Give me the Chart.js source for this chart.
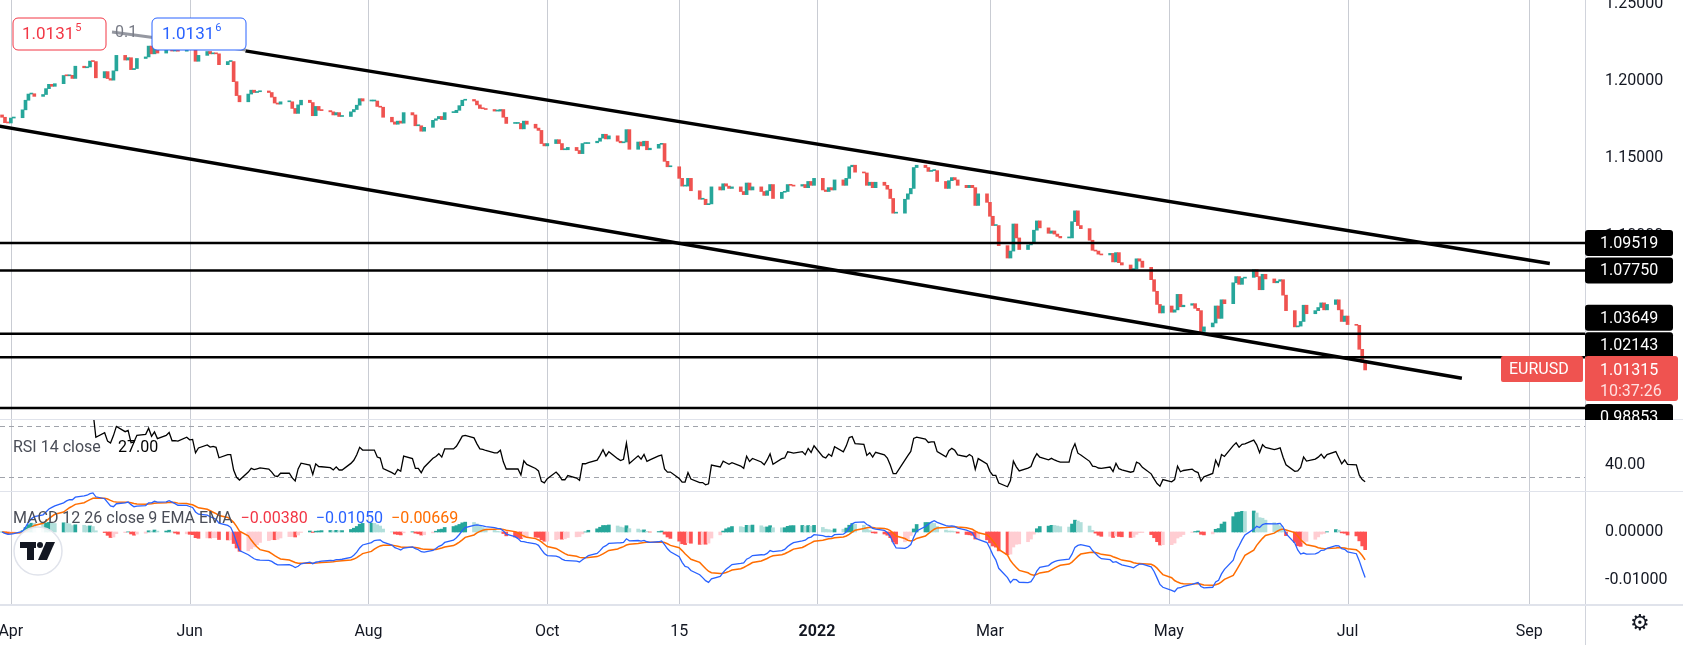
<!DOCTYPE html>
<html><head><meta charset="utf-8">
<script src="https://cdn.jsdelivr.net/npm/chart.js@4.4.0/dist/chart.umd.min.js"></script>
<style>
html,body{margin:0;padding:0;background:#fff;overflow:hidden}
#wrap{position:relative;width:1683px;height:645px}
canvas{position:absolute;left:0}
</style></head><body>
<div id="wrap">
<canvas id="c1" style="top:0"></canvas>
<canvas id="c2" style="top:420px"></canvas>
<canvas id="c3" style="top:492px"></canvas>
</div>
<script>
// ---- DATA ----
const startDate = '2021-03-29';          // first trading day (Mon)
const firstOpen = 1.1780;
const closes = [
1.1765,1.1730,1.1728,1.1760,1.1762, 1.1813,1.1875,1.1915,1.1917,1.1900, 1.1912,1.1950,1.1978,1.1965,1.1982,
1.2035,1.2033,1.2036,1.2016,1.2095, 1.2085,1.2090,1.2128,1.2125,1.2020, 1.2060,1.2015,1.2005,1.2065,1.2165,
1.2135,1.2150,1.2073,1.2080,1.2145, 1.2155,1.2225,1.2175,1.2225,1.2180, 1.2215,1.2250,1.2193,1.2195,1.2192,
1.2228,1.2212,1.2215,1.2127,1.2165, 1.2190,1.2175,1.2180,1.2175,1.2105, 1.2125,1.2125,1.1995,1.1905,1.1865,
1.1915,1.1940,1.1925,1.1930,1.1935, 1.1925,1.1895,1.1857,1.1850,1.1865, 1.1865,1.1822,1.1790,1.1845,1.1875,
1.1860,1.1775,1.1835,1.1810,1.1808, 1.1800,1.1780,1.1795,1.1770,1.1770, 1.1800,1.1815,1.1843,1.1885,1.1870,
1.1870,1.1870,1.1835,1.1830,1.1765, 1.1735,1.1720,1.1740,1.1727,1.1795, 1.1780,1.1710,1.1710,1.1675,1.1700,
1.1745,1.1755,1.1770,1.1750,1.1795, 1.1795,1.1810,1.1840,1.1875,1.1880, 1.1870,1.1845,1.1822,1.1820,1.1815,
1.1805,1.1805,1.1815,1.1765,1.1725, 1.1725,1.1725,1.1690,1.1740,1.1720, 1.1695,1.1680,1.1595,1.1580,1.1595,
1.1620,1.1595,1.1555,1.1555,1.1570, 1.1550,1.1530,1.1595,1.1595,1.1600, 1.1610,1.1630,1.1655,1.1625,1.1645,
1.1610,1.1600,1.1605,1.1685,1.1558, 1.1605,1.1580,1.1610,1.1555,1.1565, 1.1590,1.1595,1.1480,1.1445,1.1445,
1.1370,1.1320,1.1320,1.1370,1.1290, 1.1235,1.1235,1.1200,1.1205,1.1315, 1.1295,1.1335,1.1320,1.1305,1.1315,
1.1285,1.1265,1.1340,1.1295,1.1315, 1.1285,1.1260,1.1290,1.1330,1.1240, 1.1280,1.1285,1.1330,1.1325,1.1320,
1.1330,1.1310,1.1350,1.1325,1.1370, 1.1295,1.1285,1.1310,1.1295,1.1360, 1.1325,1.1370,1.1445,1.1455,1.1410,
1.1405,1.1325,1.1345,1.1310,1.1345, 1.1325,1.1300,1.1240,1.1145,1.1145, 1.1235,1.1270,1.1305,1.1440,1.1455,
1.1440,1.1415,1.1420,1.1420,1.1350, 1.1305,1.1355,1.1375,1.1360,1.1325, 1.1310,1.1325,1.1310,1.1195,1.1270,
1.1215,1.1125,1.1065,1.1065,1.0935, 1.0855,1.0900,1.1075,1.0985,1.0910, 1.0940,1.0955,1.1035,1.1095,1.1050,
1.1015,1.1030,1.1010,1.0995,1.0985, 1.0985,1.1090,1.1160,1.1065,1.1045, 1.0970,1.0905,1.0900,1.0880,1.0875,
1.0885,1.0830,1.0890,1.0825,1.0810, 1.0780,1.0785,1.0850,1.0835,1.0795, 1.0715,1.0640,1.0555,1.0500,1.0545,
1.0505,1.0520,1.0620,1.0540,1.0550, 1.0560,1.0530,1.0515,1.0380,1.0410, 1.0435,1.0545,1.0465,1.0585,1.0560,
1.0695,1.0735,1.0685,1.0725,1.0730, 1.0780,1.0735,1.0650,1.0750,1.0720, 1.0695,1.0705,1.0715,1.0615,1.0515,
1.0410,1.0415,1.0445,1.0550,1.0495, 1.0515,1.0535,1.0565,1.0520,1.0555, 1.0585,1.0520,1.0445,1.0480,1.0425,
1.0420,1.0265,1.0180,1.01315
];
const levels = [1.09519, 1.07750, 1.03649, 1.02143, 0.98853];
const levelLabelShift = [0, 0, -16, -12, 9];
const upperTrend = [{d:'2021-06-20',p:1.2194},{d:'2022-09-08',p:1.0820}];
const lowerTrend = [{d:'2021-03-28',p:1.1708},{d:'2022-08-09',p:1.0078}];
const dateTicks = ['2021-04-01','2021-06-01','2021-08-01','2021-10-01','2021-11-15','2022-01-01','2022-03-01','2022-05-01','2022-07-01','2022-09-01'];
const dateTickLabels = ['Apr','Jun','Aug','Oct','15','2022','Mar','May','Jul','Sep'];
const priceTicks = [1.00,1.05,1.10,1.15,1.20,1.25];
const lastPrice = 1.01315, countdown = '10:37:26';

// ---- helpers ----
const T0 = Date.UTC(2021,3,1);
const dayOf = s => (Date.parse(s+'T00:00:00Z')-T0)/86400000;
const days=[]; {let t=Date.parse(startDate+'T00:00:00Z'); while(days.length<closes.length){const wd=new Date(t).getUTCDay(); if(wd!==0&&wd!==6) days.push((t-T0)/86400000); t+=86400000;}}
const opens = closes.map((c,i)=> i===0?firstOpen:closes[i-1]);
const up = closes.map((c,i)=>c>=opens[i]);
const rsi=new Array(closes.length).fill(null);
{let ag=0,al=0; for(let i=1;i<closes.length;i++){const ch=closes[i]-closes[i-1]; const g=Math.max(ch,0),l=Math.max(-ch,0);
 if(i<=14){ag+=g/14;al+=l/14; if(i===14) rsi[i]=100-100/(1+ag/(al||1e-9));} else {ag=(ag*13+g)/14; al=(al*13+l)/14; rsi[i]=100-100/(1+ag/(al||1e-9));}}}
const ema=(arr,n)=>{const k=2/(n+1);let e=arr[0];return arr.map(v=>e=v*k+e*(1-k));};
const e12=ema(closes,12), e26=ema(closes,26);
const macd=e12.map((v,i)=>v-e26[i]); const sig=ema(macd,9); const hist=macd.map((v,i)=>v-sig[i]);
const histCol=hist.map((h,i)=>{const p=i?hist[i-1]:0; return h>=0?(h>=p?'#26a69a':'#b2dfdb'):(h<p?'#ff5252':'#ffcdd2');});

const XMIN=-3.7, XMAX=537, AXW=98;
const FONT='Roboto, "Open Sans", sans-serif';
const gridPlugin={id:'vgrid',beforeDatasetsDraw(ch){const {ctx,chartArea:a,scales:{x}}=ch;ctx.save();ctx.strokeStyle='#c9ccd3';ctx.lineWidth=1;
 dateTicks.forEach(d=>{const px=Math.round(x.getPixelForValue(dayOf(d)))+0.5;ctx.beginPath();ctx.moveTo(px,a.top);ctx.lineTo(px,a.bottom);ctx.stroke();});ctx.restore();}};
const frame=(bottomLine)=>({id:'frame',afterDraw(ch){const {ctx,chartArea:a}=ch;ctx.save();ctx.strokeStyle='#d1d4dc';ctx.lineWidth=1;
 ctx.beginPath();ctx.moveTo(a.right+0.5,0);ctx.lineTo(a.right+0.5,ch.height);ctx.stroke();
 if(bottomLine){ctx.strokeStyle='#e0e3eb';ctx.lineWidth=2;ctx.beginPath();ctx.moveTo(0,a.bottom);ctx.lineTo(ch.width,a.bottom);ctx.stroke();}ctx.restore();}});
const xHidden={type:'linear',min:XMIN,max:XMAX,display:false,offset:false};
const yRight=(extra)=>Object.assign({position:'right',afterFit(s){s.width=AXW;s.paddingTop=0;s.paddingBottom=0;},grid:{display:false},border:{display:false},
 ticks:{color:'#131722',font:{family:FONT,size:16},padding:12}},extra);
const base={responsive:false,animation:false,maintainAspectRatio:false,layout:{padding:0,autoPadding:false},plugins:{legend:{display:false},tooltip:{enabled:false}}};

function rr(ctx,x,y,w,h,r){ctx.beginPath();ctx.roundRect(x,y,w,h,r);}

// ---- main chart ----
const c1=document.getElementById('c1'); c1.width=1683; c1.height=420;
const lineDs=(pts,w)=>({type:'line',data:pts,borderColor:'#000',borderWidth:w,pointRadius:0,order:0});
new Chart(c1,{type:'bar',data:{datasets:[
 {data:closes.map((c,i)=>({x:days[i],y:[opens[i],c]})),backgroundColor:up.map(u=>u?'#26a69a':'#ef5350'),barThickness:3,minBarLength:1,order:2},
 ...levels.map(l=>lineDs([{x:XMIN,y:l},{x:XMAX,y:l}],2.5)),
 lineDs(upperTrend.map(p=>({x:dayOf(p.d),y:p.p})),3.5),
 lineDs(lowerTrend.map(p=>({x:dayOf(p.d),y:p.p})),3.5)
]},options:Object.assign({},base,{scales:{x:xHidden,
 y:yRight({min:0.9808,max:1.2523,afterBuildTicks(s){s.ticks=priceTicks.map(v=>({value:v}));},ticks:{color:'#131722',font:{family:FONT,size:16},padding:12,callback:v=>v.toFixed(5)}})}}),
 plugins:[gridPlugin,frame(true),{id:'labels',afterDraw(ch){const {ctx,scales:{y},chartArea:a}=ch;ctx.save();ctx.font='16px '+FONT;ctx.textBaseline='middle';
  levels.forEach((l,i)=>{const py=y.getPixelForValue(l)+levelLabelShift[i];ctx.fillStyle='#000';rr(ctx,a.right,py-13,88,26,3);ctx.fill();ctx.fillStyle='#fff';ctx.fillText(l.toFixed(5),a.right+15,py+1);});
  const py=y.getPixelForValue(lastPrice);ctx.fillStyle='#ef5350';rr(ctx,a.right,py-14,93,45,3);ctx.fill();
  ctx.fillStyle='#fff';ctx.fillText(lastPrice.toFixed(5),a.right+15,py+1);ctx.fillStyle='#ffe0e0';ctx.fillText(countdown,a.right+15,py+22);
  ctx.fillStyle='#ef5350';rr(ctx,a.right-84,py-14,82,26,2);ctx.fill();ctx.fillStyle='#fff';ctx.fillText('EURUSD',a.right-76,py);
  ctx.strokeStyle='#9598a1';ctx.lineWidth=3;ctx.beginPath();ctx.moveTo(112,32);ctx.lineTo(246,50);ctx.stroke();
  ctx.textAlign='left';
  ctx.fillStyle='#fff';rr(ctx,13,18,93,32,5);ctx.fill();ctx.strokeStyle='#f23645';ctx.lineWidth=1;ctx.stroke();
  ctx.fillStyle='#f23645';ctx.font='17px '+FONT;ctx.fillText('1.0131',22,35);let w=ctx.measureText('1.0131').width;ctx.font='11px '+FONT;ctx.fillText('5',22+w+1,28);
  ctx.fillStyle='#fff';rr(ctx,152,18,94,32,5);ctx.fill();ctx.strokeStyle='#2962ff';ctx.stroke();
  ctx.fillStyle='#2962ff';ctx.font='17px '+FONT;ctx.fillText('1.0131',162,35);ctx.font='11px '+FONT;ctx.fillText('6',162+w+1,28);
  ctx.fillStyle='#787b86';ctx.font='16px '+FONT;ctx.fillText('0.1',115,33);
  ctx.restore();}}]});

// ---- RSI ----
const c2=document.getElementById('c2'); c2.width=1683; c2.height=72;
new Chart(c2,{type:'line',data:{datasets:[{data:rsi.map((v,i)=>({x:days[i],y:v})),borderColor:'#000',borderWidth:1.3,pointRadius:0,spanGaps:false}]},
 options:Object.assign({},base,{scales:{x:xHidden,y:yRight({min:18.6,max:74.9,afterBuildTicks(s){s.ticks=[{value:40}];},ticks:{color:'#131722',font:{family:FONT,size:16},padding:12,callback:v=>v.toFixed(2)}})}}),
 plugins:[gridPlugin,frame(true),{id:'rsiDeco',beforeDatasetsDraw(ch){const {ctx,scales:{y},chartArea:a}=ch;ctx.save();ctx.setLineDash([5,4]);ctx.strokeStyle='#a0a3ab';ctx.lineWidth=1;
  [70,30].forEach(v=>{const py=Math.round(y.getPixelForValue(v))+0.5;ctx.beginPath();ctx.moveTo(0,py);ctx.lineTo(a.right,py);ctx.stroke();});ctx.restore();},
  afterDraw(ch){const {ctx}=ch;ctx.save();ctx.font='16px '+FONT;ctx.textBaseline='middle';ctx.fillStyle='#4a4d57';ctx.fillText('RSI 14 close',13,28);ctx.fillStyle='#000';ctx.fillText('27.00',118,28);ctx.restore();}}]});

// ---- MACD ----
const c3=document.getElementById('c3'); c3.width=1683; c3.height=153;
new Chart(c3,{type:'bar',data:{datasets:[
 {type:'line',data:macd.map((v,i)=>({x:days[i],y:v})),borderColor:'#2962ff',borderWidth:1.3,pointRadius:0,order:0},
 {type:'line',data:sig.map((v,i)=>({x:days[i],y:v})),borderColor:'#ff6d00',borderWidth:1.5,pointRadius:0,order:0},
 {data:hist.map((v,i)=>({x:days[i],y:v})),backgroundColor:histCol,barThickness:3,order:1}
]},options:Object.assign({},base,{scales:{
 x:{type:'linear',min:XMIN,max:XMAX,offset:false,afterFit(s){s.height=41;s.paddingLeft=0;s.paddingRight=0;},grid:{display:false,offset:false},border:{display:false},
  afterBuildTicks(s){s.ticks=dateTicks.map(d=>({value:dayOf(d)}));},
  ticks:{autoSkip:false,maxRotation:0,color:'#131722',padding:10,font:c=>({family:FONT,size:16,weight:c.tick&&c.tick.value===dayOf('2022-01-01')?'bold':'normal'}),
   callback:(v)=>{const i=dateTicks.findIndex(d=>Math.abs(dayOf(d)-v)<0.01);return i>=0?dateTickLabels[i]:'';}}},
 y:yRight({min:-0.0150,max:0.00833,afterBuildTicks(s){s.ticks=[{value:0},{value:-0.01}];},ticks:{color:'#131722',font:{family:FONT,size:16},padding:12,callback:v=>v.toFixed(5)}})}}),
 plugins:[gridPlugin,frame(false),{id:'macdDeco',afterDraw(ch){const {ctx,chartArea:a}=ch;ctx.save();
  ctx.strokeStyle='#e0e3eb';ctx.lineWidth=2;ctx.beginPath();ctx.moveTo(0,a.bottom+1);ctx.lineTo(ch.width,a.bottom+1);ctx.stroke();
  ctx.font='16px '+FONT;ctx.textBaseline='middle';let x=13;
  [['MACD 12 26 close 9 EMA EMA  ','#4a4d57'],['\u22120.00380  ','#f23645'],['\u22120.01050  ','#2962ff'],['\u22120.00669','#ff6d00']].forEach(([t,c])=>{ctx.fillStyle=c;ctx.fillText(t,x,27);x+=ctx.measureText(t).width;});
  ctx.fillStyle='rgba(255,255,255,0.9)';ctx.beginPath();ctx.arc(38,59,24,0,Math.PI*2);ctx.fill();ctx.strokeStyle='#e0e3eb';ctx.lineWidth=1.5;ctx.stroke();
  ctx.fillStyle='#131722';ctx.fillRect(20,50,16,6);ctx.fillRect(27,50,7,18);ctx.beginPath();ctx.arc(40,53,3,0,Math.PI*2);ctx.fill();
  ctx.beginPath();ctx.moveTo(46,50);ctx.lineTo(55,50);ctx.lineTo(47,68);ctx.lineTo(38,68);ctx.closePath();ctx.fill();
  ctx.font='22px "DejaVu Sans"';ctx.fillStyle='#131722';ctx.fillText('\u2699',1630,132);
  ctx.restore();}}]});
</script></body></html>
